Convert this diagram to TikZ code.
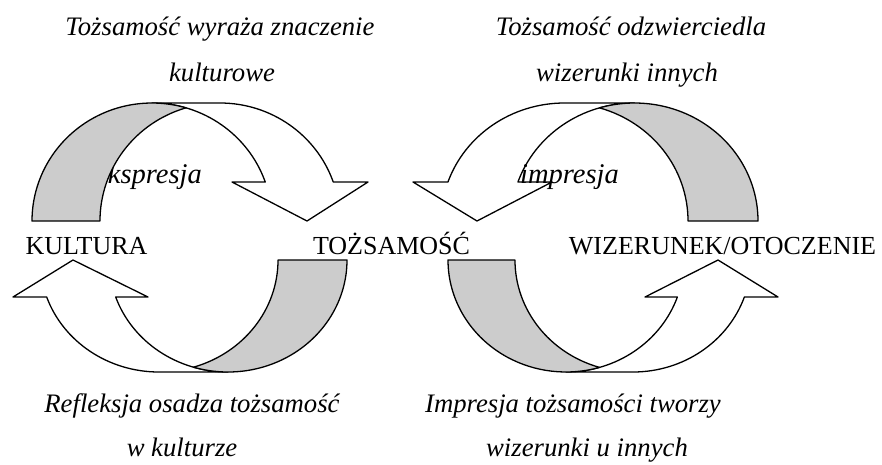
\documentclass[tikz,border=0pt]{standalone}
\usepackage{fontspec}
\setmainfont{Liberation Serif}

% A ribbon arrow made of two equal half-ellipses shifted by the band width.
% Local frame: origin at the outer foot of the shaded leg, y pointing up.
% #1 horizontal radius, #2 band width, #3 height, #4 height of the head base,
% #5 back corner of the head, #6 front corner of the head, #7 tip.
\newcommand\ribbonarrow[7]{%
  \pgfmathsetmacro\ribA{asin(#4/#3)}%
  \pgfmathsetmacro\ribI{acos(#2/(2*#1))}%
  \pgfmathsetmacro\ribX{#1+#1*cos(\ribA)}%
  \pgfmathsetmacro\ribJ{180-\ribI}%
  % front band with the head
  \path[bandfront] (\ribX,#4)
    arc[start angle=\ribA, end angle=90, x radius=#1, y radius=#3]
    -- ++(#2,0)
    arc[start angle=90, end angle=\ribA, x radius=#1, y radius=#3]
    -- (#6,#4) -- (#7,0) -- (#5,#4) -- cycle;
  % shaded back of the ribbon
  \path[bandback] (0,0)
    arc[start angle=180, end angle=\ribI, x radius=#1, y radius=#3]
    arc[start angle=\ribJ, end angle=180, x radius=#1, y radius=#3]
    -- cycle;
}

\begin{document}
\begin{tikzpicture}[x=1pt,y=-1pt,
  bandfront/.style={draw=black, fill=white, line width=1.3pt, line join=round},
  bandback/.style={draw=black, fill=black!20, line width=1.3pt, line join=round},
  caption/.style={font=\fontsize{26.7}{30}\selectfont\itshape, anchor=base, inner sep=0pt},
  term/.style={font=\fontsize{26}{30}\selectfont, anchor=base, inner sep=0pt},
  process/.style={font=\fontsize{28.5}{32}\selectfont\itshape, inner sep=0pt}]
\useasboundingbox[fill=white] (0,0) rectangle (882,464);

% label partly hidden behind the shaded leg
\node[process, anchor=base east] (ekspresja) at (202,183) {ekspresja};

% four ribbon arrows
\begin{scope}[shift={(32,221)}, yscale=-1]
  \ribbonarrow{120}{68}{118}{39}{200}{336}{275}
\end{scope}
\begin{scope}[shift={(758,221)}, xscale=-1, yscale=-1]
  \ribbonarrow{123.5}{70}{118}{39}{206}{345}{281}
\end{scope}
\begin{scope}[shift={(347,260)}, xscale=-1]
  \ribbonarrow{119}{69}{112}{37}{199}{334}{274}
\end{scope}
\begin{scope}[shift={(448,260)}]
  \ribbonarrow{118}{67}{112}{37}{197}{330}{270}
\end{scope}

\node[process, anchor=base west] (impresja) at (520,183) {impresja};

% main terms
\node[term] (kultura) at (86.5,254) {KULTURA};
\node[term] (tozsamosc) at (391.5,254) {TOŻSAMOŚĆ};
\node[term] (wizerunek) at (722.5,254) {WIZERUNEK/OTOCZENIE};

% captions
\node[caption] (c1a) at (220,35.5) {Tożsamość wyraża znaczenie};
\node[caption] (c1b) at (222,81) {kulturowe};
\node[caption] (c2a) at (631,35.5) {Tożsamość odzwierciedla};
\node[caption] (c2b) at (627,81) {wizerunki innych};
\node[caption] (c3a) at (192,412) {Refleksja osadza tożsamość};
\node[caption] (c3b) at (182,456) {w kulturze};
\node[caption] (c4a) at (573,412) {Impresja tożsamości tworzy};
\node[caption] (c4b) at (587,456) {wizerunki u innych};
\end{tikzpicture}
\end{document}
